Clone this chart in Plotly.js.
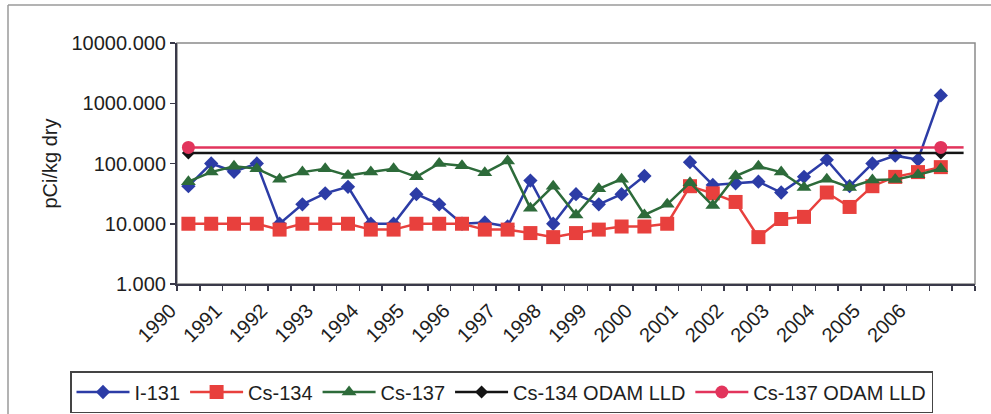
<!DOCTYPE html>
<html>
<head>
<meta charset="utf-8">
<script src="https://cdn.plot.ly/plotly-3.0.1.min.js"></script>
<style>
  html, body { margin: 0; padding: 0; background: #ffffff; }
  #chart { width: 991px; height: 414px; }
</style>
</head>
<body>
<div id="chart"></div>
<script>
// ---- Data ----
const yearLabels = ["1990","1991","1992","1993","1994","1995","1996","1997","1998",
                    "1999","2000","2001","2002","2003","2004","2005","2006"];
const categoryCount = 35;   // sampling slots on the category axis

const i131 = [42, 100, 73, 100, 10, 21, 32, 41, 10, 10, 31, 21, 10, 10.5, 9, 52, 10,
              31, 21, 31, 62, null, 105, 44, 47, 50, 33, 60, 115, 42, 100, 135, 116, 1350];
const cs134 = [10, 10, 10, 10, 8, 10, 10, 10, 8, 8, 10, 10, 10, 8, 8, 7, 6,
               7, 8, 9, 9, 10, 42, 32, 23, 6, 12, 13, 33, 19, 42, 60, 72, 87];
const cs137 = [50, 72, 90, 82, 55, 72, 82, 63, 72, 82, 60, 100, 92, 70, 110, 18, 42,
               14, 38, 55, 14, 21, 48, 20, 62, 90, 72, 40, 55, 40, 53, 54, 65, 82];
const lldSlots = [0, 33];          // slots where the LLD markers sit
const lldLineEnd = 34;             // the LLD lines run on to this slot
const cs134LLD = 150;
const cs137LLD = 185;
const yTickVals = [1, 10, 100, 1000, 10000];
const yTickText = ["1.000", "10.000", "100.000", "1000.000", "10000.000"];

// ---- Build ----
const idx = i131.map((_, i) => i);
const labelVals = yearLabels.map((_, i) => 2 * i);

const FONT = "Arial, 'Liberation Sans', sans-serif";
const FS = 20;
const C_I131 = "#2c3ca6";
const C_CS134 = "#e8403d";
const C_CS137 = "#2d6b3a";
const C_BLACK = "#141414";
const C_PINK = "#e2345c";

const traces = [
  { name: "I-131", x: idx, y: i131, type: "scatter", mode: "lines+markers",
    line: { color: C_I131, width: 2.5 },
    marker: { symbol: "diamond", size: 11, color: C_I131 } },
  { name: "Cs-134", x: idx, y: cs134, type: "scatter", mode: "lines+markers",
    line: { color: C_CS134, width: 2.5 },
    marker: { symbol: "square", size: 14, color: C_CS134 } },
  { name: "Cs-137", x: idx, y: cs137, type: "scatter", mode: "lines+markers",
    line: { color: C_CS137, width: 2.5 },
    marker: { symbol: "triangle-up", size: 13, color: C_CS137 } },
  { name: "Cs-134 ODAM LLD", legendgroup: "c134lld",
    x: [lldSlots[lldSlots.length - 1], lldLineEnd], y: [cs134LLD, cs134LLD],
    type: "scatter", mode: "lines", showlegend: false,
    line: { color: C_BLACK, width: 2.5 } },
  { name: "Cs-134 ODAM LLD", legendgroup: "c134lld",
    x: lldSlots, y: lldSlots.map(() => cs134LLD), type: "scatter", mode: "lines+markers",
    line: { color: C_BLACK, width: 2.5 },
    marker: { symbol: "diamond", size: 10, color: C_BLACK } },
  { name: "Cs-137 ODAM LLD", legendgroup: "c137lld",
    x: [lldSlots[lldSlots.length - 1], lldLineEnd], y: [cs137LLD, cs137LLD],
    type: "scatter", mode: "lines", showlegend: false,
    line: { color: C_PINK, width: 2.5 } },
  { name: "Cs-137 ODAM LLD", legendgroup: "c137lld",
    x: lldSlots, y: lldSlots.map(() => cs137LLD), type: "scatter", mode: "lines+markers",
    line: { color: C_PINK, width: 2.5 },
    marker: { symbol: "circle", size: 13, color: C_PINK } }
];

const L = 177, R = 975, T = 43, B = 284;
const pw = R - L, ph = B - T;
const px = v => (v - L) / pw;
const py = v => (B - v) / ph;

const layout = {
  width: 991, height: 414,
  margin: { l: L, r: 991 - R, t: T, b: 414 - B, pad: 0, autoexpand: false },
  paper_bgcolor: "#ffffff", plot_bgcolor: "#ffffff",
  font: { family: FONT, size: FS, color: "#1e1e1e" },
  showlegend: true,
  legend: {
    orientation: "h", x: px(70), y: py(371), xanchor: "left", yanchor: "top",
    bgcolor: "#ffffff", bordercolor: "#444444", borderwidth: 1.5,
    font: { family: FONT, size: FS, color: "#1e1e1e" },
    itemwidth: 53, traceorder: "normal"
  },
  xaxis: {
    type: "linear", range: [-0.5, categoryCount - 0.5], fixedrange: true, automargin: false,
    tickmode: "array", tickvals: labelVals, ticktext: yearLabels, tickangle: -45,
    ticks: "", ticklabelstandoff: 5, ticklabelshift: -18, showgrid: false, zeroline: false,
    showline: true, linecolor: "#3a3a4a", linewidth: 2,
    tickfont: { family: FONT, size: FS, color: "#1e1e1e" },
    minor: { tickmode: "linear", tick0: -0.5, dtick: 1, ticks: "outside",
             ticklen: 5, tickwidth: 1.5, tickcolor: "#3a3a4a", showgrid: false }
  },
  yaxis: {
    type: "log", range: [0, 4], fixedrange: true, automargin: false,
    tickmode: "array", tickvals: yTickVals, ticktext: yTickText,
    ticks: "outside", ticklen: 5, tickwidth: 1.5, tickcolor: "#3a3a4a",
    showgrid: false, zeroline: false,
    showline: true, linecolor: "#3a3a4a", linewidth: 2,
    tickfont: { family: FONT, size: FS, color: "#1e1e1e" },
    title: { text: "pCi/kg dry", font: { family: FONT, size: FS, color: "#1e1e1e" }, standoff: 8 }
  },
  shapes: [
    { type: "rect", xref: "paper", yref: "paper", x0: 0, x1: 1, y0: 0, y1: 1,
      line: { color: "#8a8a8a", width: 1.5 }, layer: "below" },
    { type: "line", xref: "paper", yref: "paper", x0: px(8), x1: px(991), y0: py(5), y1: py(5),
      line: { color: "#9a9a9a", width: 1.5 } },
    { type: "line", xref: "paper", yref: "paper", x0: px(8), x1: px(8), y0: py(5), y1: py(414),
      line: { color: "#9a9a9a", width: 1.5 } }
  ]
};

Plotly.newPlot("chart", traces, layout, { displayModeBar: false, staticPlot: true });
</script>
</body>
</html>
